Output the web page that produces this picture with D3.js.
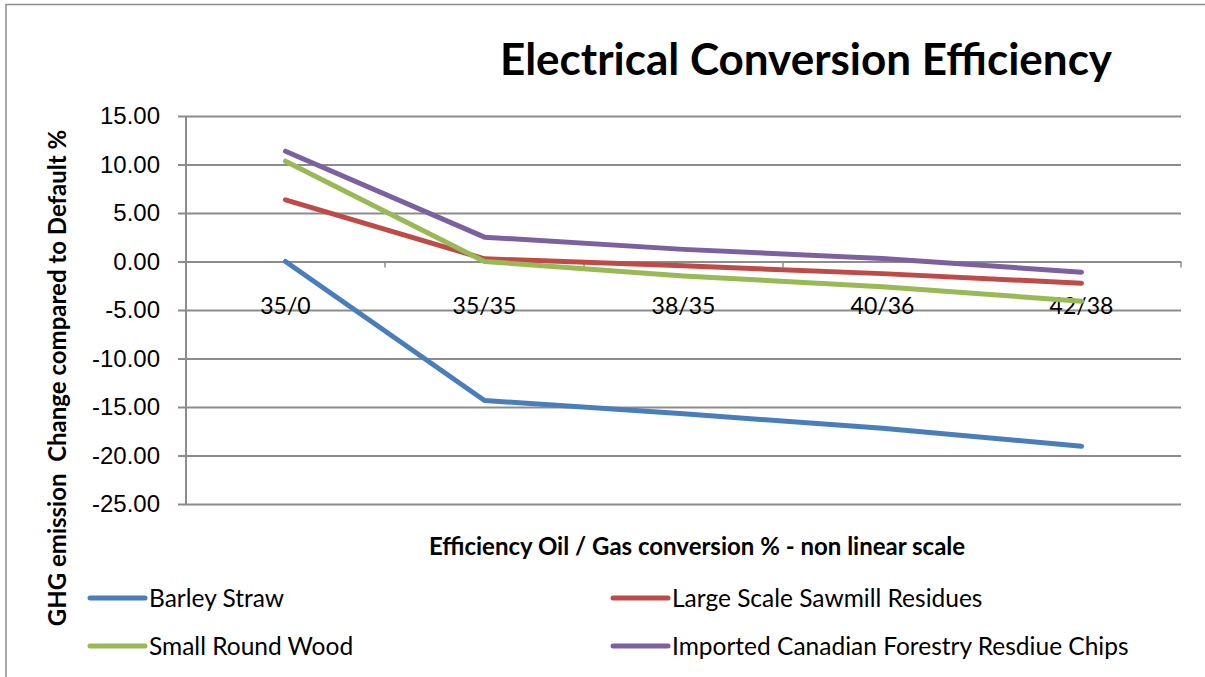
<!DOCTYPE html>
<html>
<head>
<meta charset="utf-8">
<script src="https://cdn.jsdelivr.net/npm/d3@7"></script>
<style>
  body { margin: 0; background: #fff; }
  svg { font-family: Lato, "Open Sans", sans-serif; }
</style>
</head>
<body>
<svg id="chart"></svg>
<script>
var categories = ['35/0', '35/35', '38/35', '40/36', '42/38'];
var barleyStraw = [0.00, -14.33, -15.70, -17.20, -19.04];
var sawmillResidues = [6.36, 0.28, -0.45, -1.25, -2.24];
var smallRoundWood = [10.34, 0.00, -1.50, -2.60, -4.09];
var canadianChips = [11.37, 2.51, 1.25, 0.30, -1.10];
var yTicks = [15, 10, 5, 0, -5, -10, -15, -20, -25];

var series = [
  { name: 'Barley Straw', values: barleyStraw, color: '#4a7ebb' },
  { name: 'Large Scale Sawmill Residues', values: sawmillResidues, color: '#be4b48' },
  { name: 'Small Round Wood', values: smallRoundWood, color: '#98b954' },
  { name: 'Imported Canadian Forestry Resdiue Chips', values: canadianChips, color: '#7d60a0' }
];

var width = 1205,
    height = 677;

var svg = d3.select('#chart')
    .attr('width', width)
    .attr('height', height);

// outer frame
svg.append('rect')
  .attr('x', 6)
  .attr('y', 4.5)
  .attr('width', 1250)
  .attr('height', 700)
  .attr('fill', 'none')
  .attr('stroke', '#8c8c8c')
  .attr('stroke-width', 1.5);

var x = d3.scalePoint()
    .domain(categories)
    .range([186, 1181])
    .padding(0.5);

var y = d3.scaleLinear()
    .domain([-25, 15])
    .range([504, 116]);

var fmt = function(d) { return d3.format('.2f')(d).replace('\u2212', '-'); };

// gridlines + y axis
var yAxis = d3.axisLeft(y)
    .tickValues(yTicks)
    .tickSize(-(1181 - 186))
    .tickPadding(26)
    .tickFormat(fmt);

var gy = svg.append('g')
    .attr('transform', 'translate(186,0)')
    .call(yAxis);
gy.select('.domain').remove();
gy.selectAll('.tick line')
  .attr('x1', -8)
  .attr('stroke', '#8c8c8c')
  .attr('stroke-width', 2);
gy.selectAll('.tick text')
  .attr('font-size', 24)
  .attr('fill', '#000');

svg.append('line')
  .attr('x1', 186).attr('x2', 186)
  .attr('y1', 116).attr('y2', 504)
  .attr('stroke', '#8c8c8c')
  .attr('stroke-width', 2);

// category axis on the zero line
var bounds = d3.range(categories.length + 1).map(function(i) { return 186 + i * x.step(); });
svg.selectAll('.ctick')
  .data(bounds)
  .enter().append('line')
  .attr('x1', function(d) { return d; })
  .attr('x2', function(d) { return d; })
  .attr('y1', y(0))
  .attr('y2', y(0) + 6)
  .attr('stroke', '#8c8c8c')
  .attr('stroke-width', 1.5);

svg.selectAll('.clabel')
  .data(categories)
  .enter().append('text')
  .attr('x', function(d) { return x(d); })
  .attr('y', 314)
  .attr('font-size', 23)
  .attr('text-anchor', 'middle')
  .attr('fill', '#000')
  .text(function(d) { return d; });

// lines
var line = d3.line()
    .x(function(d, i) { return x(categories[i]); })
    .y(function(d) { return y(d); });

svg.selectAll('.series')
  .data(series)
  .enter().append('path')
  .attr('d', function(d) { return line(d.values); })
  .attr('fill', 'none')
  .attr('stroke', function(d) { return d.color; })
  .attr('stroke-width', 5)
  .attr('stroke-linecap', 'round')
  .attr('stroke-linejoin', 'round');

// title
svg.append('text')
  .text('Electrical Conversion Efficiency')
  .attr('x', 806)
  .attr('y', 75)
  .attr('font-size', 44)
  .attr('font-weight', 'bold')
  .attr('text-anchor', 'middle')
  .attr('fill', '#000');

// axis titles
svg.append('text')
  .text('Efficiency Oil / Gas conversion % - non linear scale')
  .attr('x', 697)
  .attr('y', 555)
  .attr('font-size', 24)
  .attr('font-weight', 'bold')
  .attr('text-anchor', 'middle')
  .attr('fill', '#000');

svg.append('text')
  .text('GHG emission\u00a0\u00a0Change compared to Default %')
  .attr('transform', 'translate(66,378) rotate(-90)')
  .attr('font-size', 24)
  .attr('font-weight', 'bold')
  .attr('text-anchor', 'middle')
  .attr('fill', '#000');

// legend
var legendPos = [[90, 598], [613, 598], [90, 646], [613, 646]];
var legend = svg.selectAll('.legend')
  .data(series)
  .enter().append('g')
  .attr('transform', function(d, i) { return 'translate(' + legendPos[i][0] + ',' + legendPos[i][1] + ')'; });

legend.append('line')
  .attr('x1', 0).attr('x2', 55)
  .attr('y1', 0).attr('y2', 0)
  .attr('stroke', function(d) { return d.color; })
  .attr('stroke-width', 5)
  .attr('stroke-linecap', 'round');

legend.append('text')
  .attr('x', 59)
  .attr('y', 9)
  .attr('font-size', 24.5)
  .attr('fill', '#000')
  .text(function(d) { return d.name; });
</script>
</body>
</html>
